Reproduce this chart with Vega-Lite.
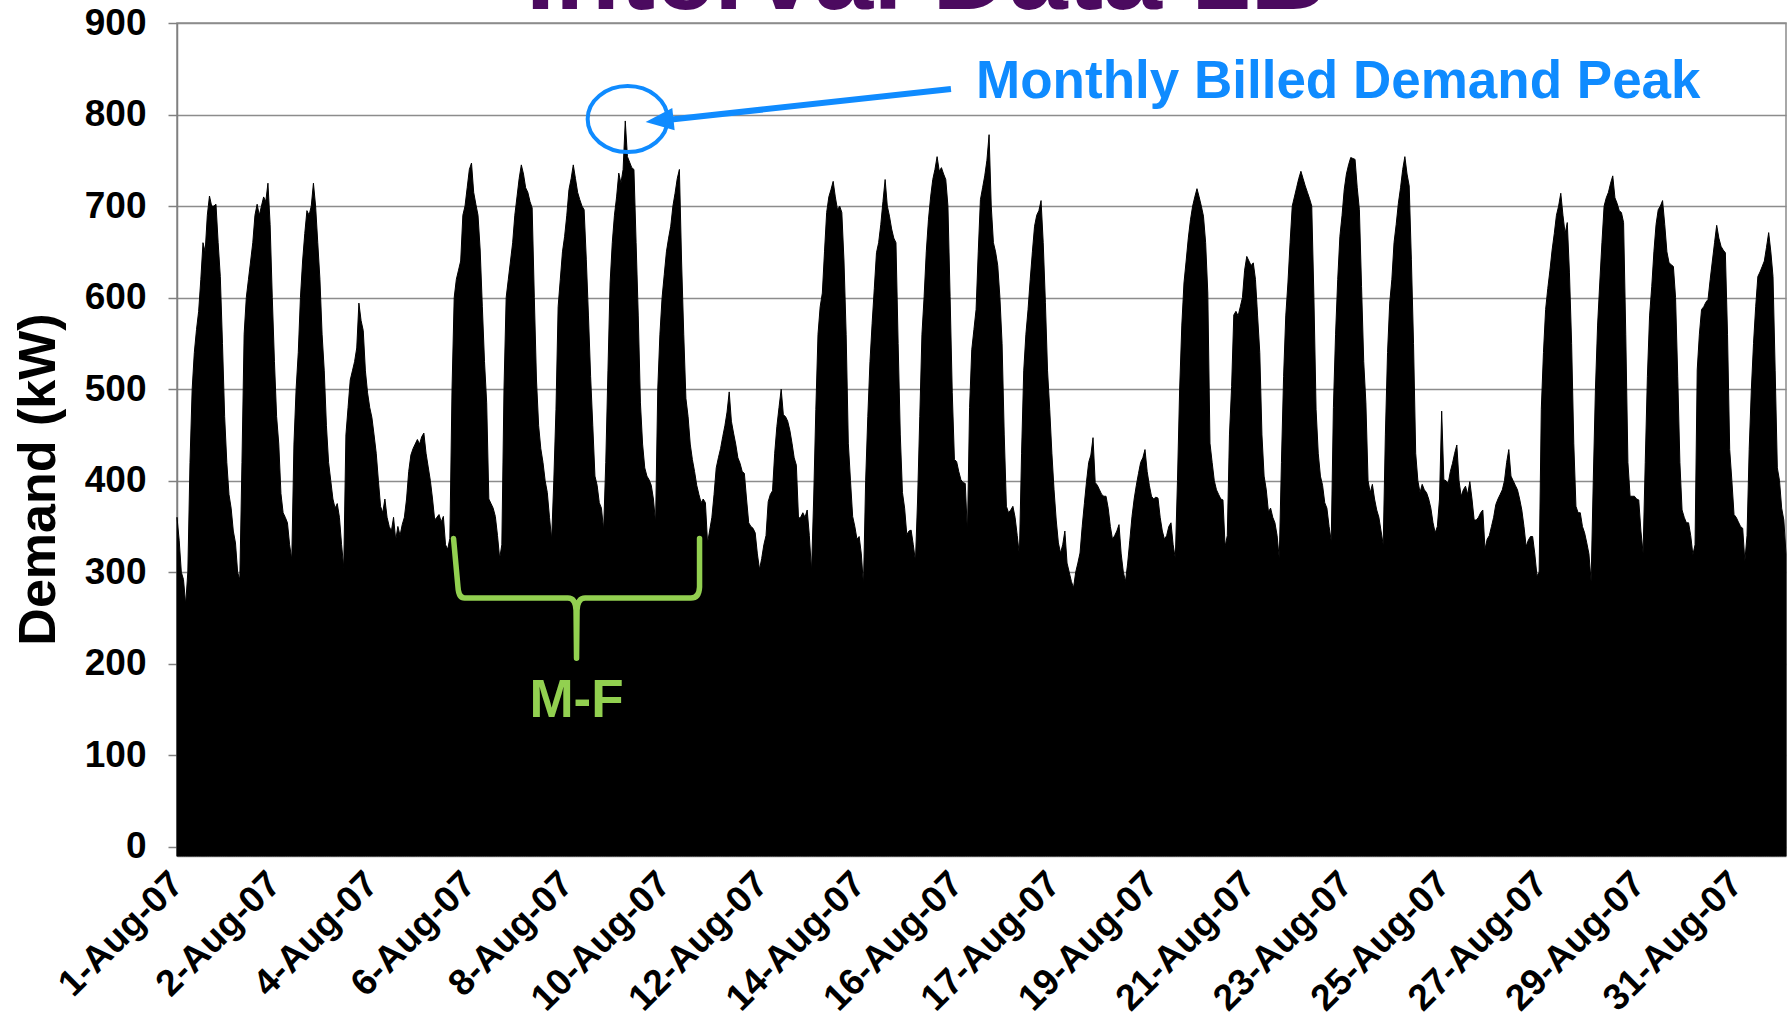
{
"$schema":"https://vega.github.io/schema/vega-lite/v6.json",
"width":1609,"height":833,
"autosize":{"type":"none"},
"padding":{"left":177,"top":23,"right":3,"bottom":173},
"background":"white",
"config":{"view":{"stroke":"#8c8c8c","strokeWidth":1.5},"font":"Liberation Sans"},
"layer":[
{"data":{"values":[
{"h":0,"kW":360},{"h":1,"kW":335},{"h":2,"kW":300},{"h":3,"kW":292},{"h":4,"kW":265},{"h":5,"kW":300},{"h":6,"kW":420},{"h":7,"kW":500},{"h":8,"kW":540},{"h":9,"kW":565},{"h":10,"kW":585},{"h":11,"kW":620},{"h":12,"kW":660},{"h":13,"kW":650},{"h":14,"kW":690},{"h":15,"kW":711},{"h":16,"kW":700},{"h":17,"kW":700},{"h":18,"kW":702},{"h":19,"kW":660},{"h":20,"kW":623},{"h":21,"kW":550},{"h":22,"kW":470},{"h":23,"kW":420},
{"h":24,"kW":385},{"h":25,"kW":370},{"h":26,"kW":345},{"h":27,"kW":332},{"h":28,"kW":300},{"h":29,"kW":292},{"h":30,"kW":420},{"h":31,"kW":560},{"h":32,"kW":600},{"h":33,"kW":620},{"h":34,"kW":640},{"h":35,"kW":660},{"h":36,"kW":690},{"h":37,"kW":702},{"h":38,"kW":690},{"h":39,"kW":700},{"h":40,"kW":710},{"h":41,"kW":705},{"h":42,"kW":725},{"h":43,"kW":680},{"h":44,"kW":600},{"h":45,"kW":530},{"h":46,"kW":470},{"h":47,"kW":440},
{"h":48,"kW":386},{"h":49,"kW":365},{"h":50,"kW":360},{"h":51,"kW":354},{"h":52,"kW":330},{"h":53,"kW":314},{"h":54,"kW":440},{"h":55,"kW":500},{"h":56,"kW":540},{"h":57,"kW":600},{"h":58,"kW":640},{"h":59,"kW":670},{"h":60,"kW":695},{"h":61,"kW":690},{"h":62,"kW":700},{"h":63,"kW":725},{"h":64,"kW":700},{"h":65,"kW":660},{"h":66,"kW":620},{"h":67,"kW":560},{"h":68,"kW":520},{"h":69,"kW":460},{"h":70,"kW":420},{"h":71,"kW":400},
{"h":72,"kW":380},{"h":73,"kW":370},{"h":74,"kW":375},{"h":75,"kW":360},{"h":76,"kW":330},{"h":77,"kW":305},{"h":78,"kW":450},{"h":79,"kW":480},{"h":80,"kW":510},{"h":81,"kW":520},{"h":82,"kW":530},{"h":83,"kW":545},{"h":84,"kW":594},{"h":85,"kW":575},{"h":86,"kW":564},{"h":87,"kW":520},{"h":88,"kW":496},{"h":89,"kW":480},{"h":90,"kW":469},{"h":91,"kW":450},{"h":92,"kW":430},{"h":93,"kW":400},{"h":94,"kW":372},{"h":95,"kW":365},
{"h":96,"kW":380},{"h":97,"kW":360},{"h":98,"kW":350},{"h":99,"kW":345},{"h":100,"kW":360},{"h":101,"kW":335},{"h":102,"kW":350},{"h":103,"kW":340},{"h":104,"kW":352},{"h":105,"kW":360},{"h":106,"kW":380},{"h":107,"kW":410},{"h":108,"kW":428},{"h":109,"kW":435},{"h":110,"kW":440},{"h":111,"kW":445},{"h":112,"kW":440},{"h":113,"kW":448},{"h":114,"kW":452},{"h":115,"kW":430},{"h":116,"kW":415},{"h":117,"kW":400},{"h":118,"kW":380},{"h":119,"kW":357},
{"h":120,"kW":360},{"h":121,"kW":363},{"h":122,"kW":355},{"h":123,"kW":361},{"h":124,"kW":330},{"h":125,"kW":325},{"h":126,"kW":337},{"h":127,"kW":500},{"h":128,"kW":600},{"h":129,"kW":620},{"h":130,"kW":630},{"h":131,"kW":640},{"h":132,"kW":690},{"h":133,"kW":700},{"h":134,"kW":720},{"h":135,"kW":740},{"h":136,"kW":747},{"h":137,"kW":715},{"h":138,"kW":702},{"h":139,"kW":690},{"h":140,"kW":652},{"h":141,"kW":590},{"h":142,"kW":530},{"h":143,"kW":485},
{"h":144,"kW":380},{"h":145,"kW":375},{"h":146,"kW":370},{"h":147,"kW":361},{"h":148,"kW":340},{"h":149,"kW":315},{"h":150,"kW":330},{"h":151,"kW":500},{"h":152,"kW":600},{"h":153,"kW":620},{"h":154,"kW":640},{"h":155,"kW":660},{"h":156,"kW":690},{"h":157,"kW":710},{"h":158,"kW":730},{"h":159,"kW":745},{"h":160,"kW":735},{"h":161,"kW":720},{"h":162,"kW":715},{"h":163,"kW":705},{"h":164,"kW":698},{"h":165,"kW":600},{"h":166,"kW":510},{"h":167,"kW":460},
{"h":168,"kW":435},{"h":169,"kW":420},{"h":170,"kW":400},{"h":171,"kW":387},{"h":172,"kW":360},{"h":173,"kW":336},{"h":174,"kW":400},{"h":175,"kW":478},{"h":176,"kW":590},{"h":177,"kW":620},{"h":178,"kW":650},{"h":179,"kW":667},{"h":180,"kW":690},{"h":181,"kW":718},{"h":182,"kW":730},{"h":183,"kW":745},{"h":184,"kW":730},{"h":185,"kW":715},{"h":186,"kW":707},{"h":187,"kW":700},{"h":188,"kW":696},{"h":189,"kW":642},{"h":190,"kW":580},{"h":191,"kW":514},
{"h":192,"kW":460},{"h":193,"kW":405},{"h":194,"kW":395},{"h":195,"kW":376},{"h":196,"kW":370},{"h":197,"kW":346},{"h":198,"kW":420},{"h":199,"kW":520},{"h":200,"kW":616},{"h":201,"kW":660},{"h":202,"kW":690},{"h":203,"kW":710},{"h":204,"kW":736},{"h":205,"kW":725},{"h":206,"kW":740},{"h":207,"kW":793},{"h":208,"kW":754},{"h":209,"kW":748},{"h":210,"kW":742},{"h":211,"kW":740},{"h":212,"kW":660},{"h":213,"kW":580},{"h":214,"kW":485},{"h":215,"kW":440},
{"h":216,"kW":414},{"h":217,"kW":405},{"h":218,"kW":401},{"h":219,"kW":395},{"h":220,"kW":380},{"h":221,"kW":354},{"h":222,"kW":500},{"h":223,"kW":560},{"h":224,"kW":600},{"h":225,"kW":625},{"h":226,"kW":650},{"h":227,"kW":665},{"h":228,"kW":678},{"h":229,"kW":700},{"h":230,"kW":714},{"h":231,"kW":730},{"h":232,"kW":740},{"h":233,"kW":640},{"h":234,"kW":560},{"h":235,"kW":490},{"h":236,"kW":470},{"h":237,"kW":440},{"h":238,"kW":423},{"h":239,"kW":410},
{"h":240,"kW":395},{"h":241,"kW":385},{"h":242,"kW":376},{"h":243,"kW":380},{"h":244,"kW":376},{"h":245,"kW":332},{"h":246,"kW":346},{"h":247,"kW":360},{"h":248,"kW":385},{"h":249,"kW":414},{"h":250,"kW":425},{"h":251,"kW":435},{"h":252,"kW":448},{"h":253,"kW":460},{"h":254,"kW":475},{"h":255,"kW":497},{"h":256,"kW":465},{"h":257,"kW":452},{"h":258,"kW":440},{"h":259,"kW":425},{"h":260,"kW":419},{"h":261,"kW":410},{"h":262,"kW":408},{"h":263,"kW":380},
{"h":264,"kW":354},{"h":265,"kW":350},{"h":266,"kW":348},{"h":267,"kW":343},{"h":268,"kW":320},{"h":269,"kW":303},{"h":270,"kW":315},{"h":271,"kW":330},{"h":272,"kW":340},{"h":273,"kW":377},{"h":274,"kW":385},{"h":275,"kW":389},{"h":276,"kW":430},{"h":277,"kW":459},{"h":278,"kW":480},{"h":279,"kW":500},{"h":280,"kW":472},{"h":281,"kW":470},{"h":282,"kW":465},{"h":283,"kW":455},{"h":284,"kW":441},{"h":285,"kW":425},{"h":286,"kW":417},{"h":287,"kW":359},
{"h":288,"kW":360},{"h":289,"kW":365},{"h":290,"kW":360},{"h":291,"kW":368},{"h":292,"kW":340},{"h":293,"kW":301},{"h":294,"kW":380},{"h":295,"kW":478},{"h":296,"kW":560},{"h":297,"kW":590},{"h":298,"kW":605},{"h":299,"kW":650},{"h":300,"kW":693},{"h":301,"kW":710},{"h":302,"kW":718},{"h":303,"kW":727},{"h":304,"kW":710},{"h":305,"kW":696},{"h":306,"kW":700},{"h":307,"kW":693},{"h":308,"kW":640},{"h":309,"kW":560},{"h":310,"kW":441},{"h":311,"kW":400},
{"h":312,"kW":361},{"h":313,"kW":350},{"h":314,"kW":336},{"h":315,"kW":339},{"h":316,"kW":320},{"h":317,"kW":286},{"h":318,"kW":400},{"h":319,"kW":470},{"h":320,"kW":530},{"h":321,"kW":572},{"h":322,"kW":610},{"h":323,"kW":649},{"h":324,"kW":660},{"h":325,"kW":680},{"h":326,"kW":705},{"h":327,"kW":729},{"h":328,"kW":700},{"h":329,"kW":689},{"h":330,"kW":675},{"h":331,"kW":665},{"h":332,"kW":660},{"h":333,"kW":550},{"h":334,"kW":450},{"h":335,"kW":387},
{"h":336,"kW":370},{"h":337,"kW":341},{"h":338,"kW":345},{"h":339,"kW":346},{"h":340,"kW":330},{"h":341,"kW":312},{"h":342,"kW":380},{"h":343,"kW":470},{"h":344,"kW":560},{"h":345,"kW":601},{"h":346,"kW":650},{"h":347,"kW":685},{"h":348,"kW":710},{"h":349,"kW":729},{"h":350,"kW":740},{"h":351,"kW":754},{"h":352,"kW":738},{"h":353,"kW":742},{"h":354,"kW":735},{"h":355,"kW":729},{"h":356,"kW":700},{"h":357,"kW":601},{"h":358,"kW":496},{"h":359,"kW":423},
{"h":360,"kW":421},{"h":361,"kW":410},{"h":362,"kW":401},{"h":363,"kW":398},{"h":364,"kW":397},{"h":365,"kW":343},{"h":366,"kW":480},{"h":367,"kW":543},{"h":368,"kW":565},{"h":369,"kW":587},{"h":370,"kW":650},{"h":371,"kW":707},{"h":372,"kW":720},{"h":373,"kW":733},{"h":374,"kW":750},{"h":375,"kW":778},{"h":376,"kW":700},{"h":377,"kW":660},{"h":378,"kW":650},{"h":379,"kW":635},{"h":380,"kW":600},{"h":381,"kW":550},{"h":382,"kW":450},{"h":383,"kW":372},
{"h":384,"kW":365},{"h":385,"kW":368},{"h":386,"kW":372},{"h":387,"kW":360},{"h":388,"kW":340},{"h":389,"kW":319},{"h":390,"kW":430},{"h":391,"kW":520},{"h":392,"kW":560},{"h":393,"kW":587},{"h":394,"kW":620},{"h":395,"kW":650},{"h":396,"kW":678},{"h":397,"kW":690},{"h":398,"kW":695},{"h":399,"kW":706},{"h":400,"kW":660},{"h":401,"kW":595},{"h":402,"kW":520},{"h":403,"kW":478},{"h":404,"kW":430},{"h":405,"kW":390},{"h":406,"kW":357},{"h":407,"kW":332},
{"h":408,"kW":321},{"h":409,"kW":330},{"h":410,"kW":345},{"h":411,"kW":310},{"h":412,"kW":300},{"h":413,"kW":290},{"h":414,"kW":283},{"h":415,"kW":300},{"h":416,"kW":310},{"h":417,"kW":321},{"h":418,"kW":350},{"h":419,"kW":375},{"h":420,"kW":399},{"h":421,"kW":420},{"h":422,"kW":428},{"h":423,"kW":447},{"h":424,"kW":398},{"h":425,"kW":395},{"h":426,"kW":390},{"h":427,"kW":385},{"h":428,"kW":383},{"h":429,"kW":383},{"h":430,"kW":370},{"h":431,"kW":350},
{"h":432,"kW":336},{"h":433,"kW":340},{"h":434,"kW":345},{"h":435,"kW":352},{"h":436,"kW":320},{"h":437,"kW":300},{"h":438,"kW":290},{"h":439,"kW":310},{"h":440,"kW":335},{"h":441,"kW":361},{"h":442,"kW":380},{"h":443,"kW":395},{"h":444,"kW":408},{"h":445,"kW":420},{"h":446,"kW":425},{"h":447,"kW":434},{"h":448,"kW":410},{"h":449,"kW":395},{"h":450,"kW":383},{"h":451,"kW":380},{"h":452,"kW":382},{"h":453,"kW":381},{"h":454,"kW":360},{"h":455,"kW":345},
{"h":456,"kW":336},{"h":457,"kW":340},{"h":458,"kW":350},{"h":459,"kW":354},{"h":460,"kW":330},{"h":461,"kW":315},{"h":462,"kW":400},{"h":463,"kW":500},{"h":464,"kW":570},{"h":465,"kW":616},{"h":466,"kW":640},{"h":467,"kW":665},{"h":468,"kW":685},{"h":469,"kW":700},{"h":470,"kW":710},{"h":471,"kW":719},{"h":472,"kW":710},{"h":473,"kW":700},{"h":474,"kW":689},{"h":475,"kW":660},{"h":476,"kW":605},{"h":477,"kW":441},{"h":478,"kW":420},{"h":479,"kW":400},
{"h":480,"kW":390},{"h":481,"kW":385},{"h":482,"kW":380},{"h":483,"kW":379},{"h":484,"kW":328},{"h":485,"kW":340},{"h":486,"kW":450},{"h":487,"kW":503},{"h":488,"kW":581},{"h":489,"kW":585},{"h":490,"kW":580},{"h":491,"kW":590},{"h":492,"kW":600},{"h":493,"kW":630},{"h":494,"kW":645},{"h":495,"kW":640},{"h":496,"kW":635},{"h":497,"kW":638},{"h":498,"kW":620},{"h":499,"kW":580},{"h":500,"kW":540},{"h":501,"kW":450},{"h":502,"kW":405},{"h":503,"kW":390},
{"h":504,"kW":366},{"h":505,"kW":370},{"h":506,"kW":360},{"h":507,"kW":354},{"h":508,"kW":340},{"h":509,"kW":315},{"h":510,"kW":420},{"h":511,"kW":514},{"h":512,"kW":580},{"h":513,"kW":616},{"h":514,"kW":660},{"h":515,"kW":700},{"h":516,"kW":710},{"h":517,"kW":720},{"h":518,"kW":730},{"h":519,"kW":738},{"h":520,"kW":730},{"h":521,"kW":722},{"h":522,"kW":715},{"h":523,"kW":708},{"h":524,"kW":700},{"h":525,"kW":600},{"h":526,"kW":478},{"h":527,"kW":430},
{"h":528,"kW":405},{"h":529,"kW":395},{"h":530,"kW":376},{"h":531,"kW":370},{"h":532,"kW":350},{"h":533,"kW":334},{"h":534,"kW":480},{"h":535,"kW":560},{"h":536,"kW":620},{"h":537,"kW":667},{"h":538,"kW":690},{"h":539,"kW":718},{"h":540,"kW":735},{"h":541,"kW":745},{"h":542,"kW":753},{"h":543,"kW":752},{"h":544,"kW":751},{"h":545,"kW":720},{"h":546,"kW":696},{"h":547,"kW":612},{"h":548,"kW":530},{"h":549,"kW":485},{"h":550,"kW":400},{"h":551,"kW":387},
{"h":552,"kW":396},{"h":553,"kW":380},{"h":554,"kW":368},{"h":555,"kW":360},{"h":556,"kW":345},{"h":557,"kW":330},{"h":558,"kW":450},{"h":559,"kW":540},{"h":560,"kW":594},{"h":561,"kW":620},{"h":562,"kW":660},{"h":563,"kW":680},{"h":564,"kW":703},{"h":565,"kW":720},{"h":566,"kW":740},{"h":567,"kW":754},{"h":568,"kW":735},{"h":569,"kW":722},{"h":570,"kW":642},{"h":571,"kW":550},{"h":572,"kW":430},{"h":573,"kW":400},{"h":574,"kW":387},{"h":575,"kW":396},
{"h":576,"kW":390},{"h":577,"kW":387},{"h":578,"kW":380},{"h":579,"kW":370},{"h":580,"kW":354},{"h":581,"kW":343},{"h":582,"kW":350},{"h":583,"kW":380},{"h":584,"kW":476},{"h":585,"kW":401},{"h":586,"kW":400},{"h":587,"kW":397},{"h":588,"kW":410},{"h":589,"kW":419},{"h":590,"kW":430},{"h":591,"kW":439},{"h":592,"kW":400},{"h":593,"kW":383},{"h":594,"kW":390},{"h":595,"kW":394},{"h":596,"kW":385},{"h":597,"kW":399},{"h":598,"kW":380},{"h":599,"kW":357},
{"h":600,"kW":357},{"h":601,"kW":360},{"h":602,"kW":365},{"h":603,"kW":368},{"h":604,"kW":325},{"h":605,"kW":336},{"h":606,"kW":340},{"h":607,"kW":350},{"h":608,"kW":360},{"h":609,"kW":374},{"h":610,"kW":380},{"h":611,"kW":385},{"h":612,"kW":390},{"h":613,"kW":400},{"h":614,"kW":420},{"h":615,"kW":434},{"h":616,"kW":405},{"h":617,"kW":400},{"h":618,"kW":395},{"h":619,"kW":390},{"h":620,"kW":380},{"h":621,"kW":368},{"h":622,"kW":350},{"h":623,"kW":328},
{"h":624,"kW":335},{"h":625,"kW":339},{"h":626,"kW":339},{"h":627,"kW":320},{"h":628,"kW":296},{"h":629,"kW":300},{"h":630,"kW":478},{"h":631,"kW":540},{"h":632,"kW":587},{"h":633,"kW":610},{"h":634,"kW":630},{"h":635,"kW":652},{"h":636,"kW":670},{"h":637,"kW":690},{"h":638,"kW":700},{"h":639,"kW":714},{"h":640,"kW":690},{"h":641,"kW":670},{"h":642,"kW":682},{"h":643,"kW":627},{"h":644,"kW":550},{"h":645,"kW":441},{"h":646,"kW":372},{"h":647,"kW":365},
{"h":648,"kW":365},{"h":649,"kW":350},{"h":650,"kW":343},{"h":651,"kW":332},{"h":652,"kW":320},{"h":653,"kW":290},{"h":654,"kW":400},{"h":655,"kW":500},{"h":656,"kW":570},{"h":657,"kW":616},{"h":658,"kW":660},{"h":659,"kW":700},{"h":660,"kW":709},{"h":661,"kW":715},{"h":662,"kW":725},{"h":663,"kW":733},{"h":664,"kW":709},{"h":665,"kW":703},{"h":666,"kW":695},{"h":667,"kW":693},{"h":668,"kW":682},{"h":669,"kW":560},{"h":670,"kW":420},{"h":671,"kW":383},
{"h":672,"kW":383},{"h":673,"kW":383},{"h":674,"kW":380},{"h":675,"kW":379},{"h":676,"kW":345},{"h":677,"kW":321},{"h":678,"kW":420},{"h":679,"kW":514},{"h":680,"kW":580},{"h":681,"kW":612},{"h":682,"kW":650},{"h":683,"kW":680},{"h":684,"kW":696},{"h":685,"kW":700},{"h":686,"kW":706},{"h":687,"kW":680},{"h":688,"kW":650},{"h":689,"kW":638},{"h":690,"kW":636},{"h":691,"kW":634},{"h":692,"kW":600},{"h":693,"kW":514},{"h":694,"kW":420},{"h":695,"kW":368},
{"h":696,"kW":360},{"h":697,"kW":354},{"h":698,"kW":354},{"h":699,"kW":340},{"h":700,"kW":319},{"h":701,"kW":330},{"h":702,"kW":521},{"h":703,"kW":560},{"h":704,"kW":587},{"h":705,"kW":590},{"h":706,"kW":595},{"h":707,"kW":598},{"h":708,"kW":620},{"h":709,"kW":640},{"h":710,"kW":660},{"h":711,"kW":679},{"h":712,"kW":665},{"h":713,"kW":656},{"h":714,"kW":652},{"h":715,"kW":649},{"h":716,"kW":560},{"h":717,"kW":434},{"h":718,"kW":400},{"h":719,"kW":363},
{"h":720,"kW":360},{"h":721,"kW":355},{"h":722,"kW":350},{"h":723,"kW":348},{"h":724,"kW":312},{"h":725,"kW":340},{"h":726,"kW":434},{"h":727,"kW":500},{"h":728,"kW":550},{"h":729,"kW":590},{"h":730,"kW":623},{"h":731,"kW":628},{"h":732,"kW":634},{"h":733,"kW":640},{"h":734,"kW":655},{"h":735,"kW":671},{"h":736,"kW":650},{"h":737,"kW":623},{"h":738,"kW":520},{"h":739,"kW":414},{"h":740,"kW":400},{"h":741,"kW":370},{"h":742,"kW":357},{"h":743,"kW":320}
]},
"mark":{"type":"area","color":"black","stroke":"black","strokeWidth":1,"interpolate":"linear"},
"encoding":{
"x":{"field":"h","type":"quantitative","scale":{"domain":[0,743],"nice":false,"zero":false},
"axis":{"values":[0,45,90,135,180,225,270,315,360,405,450,495,540,585,630,675,720],"labelExpr":"(floor(datum.value/24)+1) + '-Aug-07'","labelAngle":-45,"labelAlign":"right","labelBaseline":"middle","labelFont":"Liberation Sans","labelFontSize":37,"labelFontWeight":"bold","labelColor":"black","labelPadding":22,"labelLimit":0,"labelOverlap":false,"labelFlush":false,"labelBound":false,"ticks":false,"grid":false,"domainColor":"#8c8c8c","domainWidth":1.5,"title":null}},
"y":{"field":"kW","type":"quantitative","scale":{"domain":[-10,900],"nice":false,"zero":false},
"axis":{"values":[0,100,200,300,400,500,600,700,800,900],"title":"Demand (kW)","titleFont":"Liberation Sans","titleFontSize":52,"titleFontWeight":"bold","titleColor":"black","titleAngle":-90,"titleX":-139,"titleY":456,"titleAlign":"center","titleBaseline":"middle","labelFont":"Liberation Sans","labelFontSize":37,"labelFontWeight":"bold","labelColor":"black","labelPadding":22,"tickSize":9,"tickColor":"#808080","tickWidth":1.5,"domainColor":"#808080","domainWidth":1.5,"grid":true,"gridColor":"#8c8c8c","gridWidth":1.5}},
"y2":{"datum":-10}
}},
{"data":{"values":[{}]},
"mark":{"type":"text","text":"Interval Data 1B","font":"Liberation Sans","fontSize":106,"fontWeight":"bold","color":"#4b0a5f","align":"center","baseline":"alphabetic"},
"encoding":{"x":{"datum":346,"type":"quantitative"},"y":{"datum":915,"type":"quantitative"}}},
{"data":{"values":[{}]},
"mark":{"type":"rule","color":"#0f8bff","strokeWidth":6},
"encoding":{"x":{"datum":357.4,"type":"quantitative"},"y":{"datum":827.9,"type":"quantitative"},"x2":{"datum":224},"y2":{"datum":793.5}}},
{"data":{"values":[{}]},
"mark":{"type":"point","shape":"M 0 0 L 1 -0.4 L 1 0.4 Z","size":3136,"angle":354,"filled":true,"color":"#0f8bff","opacity":1},
"encoding":{"x":{"datum":216.4,"type":"quantitative"},"y":{"datum":791.9,"type":"quantitative"}}},
{"data":{"values":[{}]},
"mark":{"type":"point","shape":"M -1 0 C -1 -0.456 -0.552 -0.825 0 -0.825 C 0.552 -0.825 1 -0.456 1 0 C 1 0.456 0.552 0.825 0 0.825 C -0.552 0.825 -1 0.456 -1 0 Z","size":6400,"filled":false,"stroke":"#0f8bff","strokeWidth":4,"opacity":1},
"encoding":{"x":{"datum":208.1,"type":"quantitative"},"y":{"datum":795.1,"type":"quantitative"}}},
{"data":{"values":[{}]},
"mark":{"type":"text","text":"Monthly Billed Demand Peak","font":"Liberation Sans","fontSize":53,"fontWeight":"bold","color":"#0f8bff","align":"left","baseline":"alphabetic"},
"encoding":{"x":{"datum":369,"type":"quantitative"},"y":{"datum":818,"type":"quantitative"}}},
{"data":{"values":[{}]},
"mark":{"type":"point","shape":"M -1 -0.483 L -0.964 -0.089 Q -0.959 0 -0.91 0 L -0.07 0 Q -0.008 0 -0.004 0.1 L 0 0.49 L 0.004 0.1 Q 0.008 0 0.07 0 L 0.93 0 Q 0.996 0 1 -0.089 L 1 -0.483","size":60516,"filled":false,"stroke":"#92d050","strokeWidth":5.5,"strokeCap":"round","strokeJoin":"round","opacity":1},
"encoding":{"x":{"datum":184.5,"type":"quantitative"},"y":{"datum":271.9,"type":"quantitative"}}},
{"data":{"values":[{}]},
"mark":{"type":"text","text":"M-F","font":"Liberation Sans","fontSize":53,"fontWeight":"bold","color":"#92d050","align":"center","baseline":"alphabetic"},
"encoding":{"x":{"datum":184.5,"type":"quantitative"},"y":{"datum":141.9,"type":"quantitative"}}}
]
}
